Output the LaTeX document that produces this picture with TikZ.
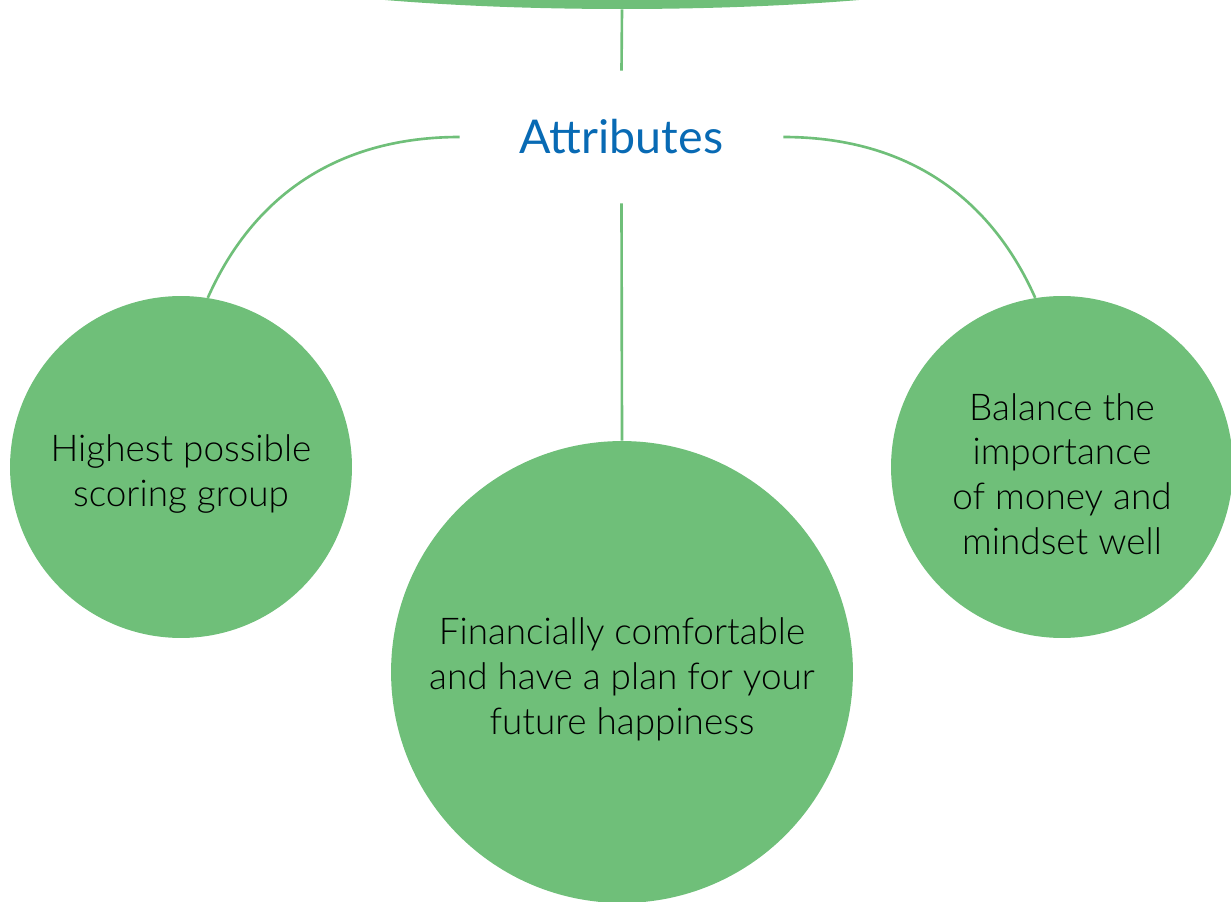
\documentclass[tikz,border=0pt]{standalone}
\usepackage{fontspec}
\setmainfont{Lato Light}
\newfontfamily\headfont{Lato}
\usetikzlibrary{shapes.geometric}
\definecolor{leaf}{RGB}{111,191,121}
\definecolor{titleblue}{RGB}{8,106,180}

\begin{document}
\begin{tikzpicture}[x=0.02cm,y=0.02cm,
                bubble/.style={circle,fill=leaf,draw=none,inner sep=0pt},
                blurb/.style={align=center,inner sep=0pt,yshift=-4pt,
                  font=\fontsize{21}{25.5}\selectfont},
                link/.style={draw=leaf,line width=1.5pt},
                ]
                \useasboundingbox (0,0) rectangle (1231,-902);
                \node[ellipse,fill=leaf,inner sep=0pt,minimum width=18cm,minimum height=2.4cm] (top) at (622,51) {};
                \node[inner sep=0pt,minimum width=6.46cm,minimum height=2.64cm,text=titleblue,
                  font=\headfont\fontsize{26.5}{30}\selectfont] (attr) at (621.5,-137) {Attributes};
                \node[bubble,minimum size=6.84cm,label={[blurb]center:Highest possible\\scoring group}] (left) at (181,-467) {};
                \node[bubble,minimum size=9.24cm,label={[blurb]center:Financially comfortable\\and have a plan for your\\future happiness}] (mid) at (622,-672) {};
                \node[bubble,minimum size=6.84cm,label={[blurb]center:Balance the\\importance\\of money and\\mindset well}] (right) at (1062,-467) {};
                
                \draw[link] (top.south) -- (attr.north);
                \draw[link] (attr.south) -- (mid.north);
                \draw[link] (attr.west) to[out=180,in=66] (left.81);
                \draw[link] (attr.east) to[out=0,in=114] (right.99);
            \end{tikzpicture}
\end{document}
